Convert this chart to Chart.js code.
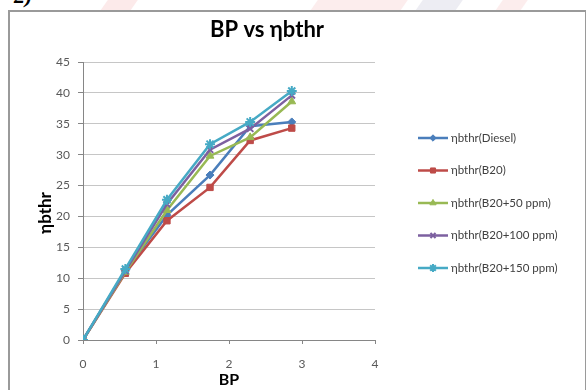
<!DOCTYPE html>
<html>
<head>
<meta charset="utf-8">
<script src="https://cdn.jsdelivr.net/npm/chart.js@4/dist/chart.umd.min.js"></script>
<style>
  html, body { margin: 0; padding: 0; background: #fff; overflow: hidden; }
  #page { position: relative; width: 586px; height: 390px; overflow: hidden; }
  #frame {
    position: absolute; left: 8px; top: 10px; width: 575px; height: 400px;
    border: 2px solid #9a9a9a; border-bottom: none; background: #fff;
  }
  #num {
    position: absolute; left: 14px; top: -17px;
    font: italic bold 22px "Liberation Serif", serif; color: #000;
  }
  .mark { position: absolute; height: 12px; transform: skewX(-35deg); opacity: 0.18; }
  canvas { position: absolute; left: 0; top: 0; }
</style>
</head>
<body>
<div id="page">
  <!-- faint watermark bits peeking above the chart frame -->
  <div class="mark" style="left:105px;top:-2px;width:30px;background:#e88;"></div>
  <div class="mark" style="left:315px;top:-2px;width:90px;background:#e99;"></div>
  <div class="mark" style="left:420px;top:-2px;width:40px;background:#99b;"></div>
  <div class="mark" style="left:500px;top:-2px;width:25px;background:#e99;"></div>
  <div id="num">2)</div>
  <div id="frame"></div>
  <canvas id="chart" width="586" height="390"></canvas>
</div>
<script>
// Brake power readings (x axis) shared by every fuel blend.
var bp = [0, 0.58, 1.15, 1.74, 2.29, 2.86];

// Brake thermal efficiency for each blend.
var diesel  = [0, 11.2, 20.2, 26.7, 34.6, 35.3];
var b20     = [0, 10.8, 19.3, 24.7, 32.3, 34.3];
var b20_50  = [0, 11.0, 21.0, 29.8, 32.8, 38.6];
var b20_100 = [0, 11.2, 22.0, 30.8, 34.2, 39.6];
var b20_150 = [0, 11.5, 22.7, 31.7, 35.3, 40.3];

var seriesNames = ['ηbthr(Diesel)', 'ηbthr(B20)', 'ηbthr(B20+50 ppm)',
                   'ηbthr(B20+100 ppm)', 'ηbthr(B20+150 ppm)'];

var xTicks = [0, 1, 2, 3, 4];
var yTicks = [0, 5, 10, 15, 20, 25, 30, 35, 40, 45];

var FONT = 'Lato, "Open Sans", sans-serif';

// Excel 2007 default palette and marker shapes, one per series.
var colors  = ['#4a7ebb', '#be4b48', '#98b954', '#7d60a0', '#46aac5'];
var markers = ['rectRot', 'rect', 'triangle', 'crossRot', 'star'];
var radii   = [4, 4.5, 4.5, 4.5, 5];

// Pair the x values with each series for a linear x axis.
function toPoints(values) {
  return values.map(function(v, i) { return { x: bp[i], y: v }; });
}

var datasets = [diesel, b20, b20_50, b20_100, b20_150].map(function(values, i) {
  return {
    label: seriesNames[i],
    data: toPoints(values),
    borderColor: colors[i],
    backgroundColor: colors[i],
    borderWidth: 2.5,
    pointStyle: markers[i],
    pointRadius: radii[i],
    pointBorderWidth: (markers[i] == 'crossRot' || markers[i] == 'star') ? 2 : 1,
    pointBorderColor: colors[i],
    // later series sit on top, like Excel
    order: 4 - i
  };
});

// Draws the chart title, axis titles and the Excel-style legend
// (short line with the marker in the middle) at fixed spots.
var textPlugin = {
  id: 'excelText',
  afterDraw: function(chart) {
    var ctx = chart.ctx;
    var area = chart.chartArea;
    ctx.save();
    ctx.fillStyle = '#000';
    ctx.textAlign = 'center';
    ctx.textBaseline = 'alphabetic';

    ctx.font = 'bold 22px ' + FONT;
    ctx.fillText('BP vs ηbthr', 267, 37);

    ctx.font = 'bold 16px ' + FONT;
    ctx.fillText('BP', (area.left + area.right) / 2, 385);

    ctx.translate(46, 213);
    ctx.rotate(-Math.PI / 2);
    ctx.font = 'bold 17px ' + FONT;
    ctx.textBaseline = 'middle';
    ctx.fillText('ηbthr', 0, 0);
    ctx.restore();

    // legend
    ctx.save();
    ctx.font = '11.5px ' + FONT;
    ctx.textAlign = 'left';
    ctx.textBaseline = 'middle';
    chart.data.datasets.forEach(function(ds, i) {
      var y = 138 + i * 32.5;
      ctx.strokeStyle = ds.borderColor;
      ctx.lineWidth = 2.5;
      ctx.beginPath();
      ctx.moveTo(418, y);
      ctx.lineTo(448, y);
      ctx.stroke();
      ctx.fillStyle = ds.backgroundColor;
      ctx.strokeStyle = ds.borderColor;
      ctx.lineWidth = ds.pointBorderWidth;
      Chart.helpers.drawPoint(ctx, {
        pointStyle: ds.pointStyle, radius: ds.pointRadius * 0.8, rotation: 0,
        borderWidth: ds.pointBorderWidth
      }, 433, y);
      ctx.fillStyle = '#404040';
      ctx.fillText(ds.label, 451, y);
    });
    ctx.restore();
  }
};

var chart = new Chart(document.getElementById('chart'), {
  type: 'line',
  data: { datasets: datasets },
  plugins: [textPlugin],
  options: {
    responsive: false,
    animation: false,
    layout: { padding: { left: 33, right: 211, top: 62, bottom: 0 } },
    plugins: {
      legend: { display: false },
      title: { display: false },
      tooltip: { enabled: false }
    },
    scales: {
      x: {
        type: 'linear',
        min: 0,
        max: 4,
        afterBuildTicks: function(scale) {
          scale.ticks = xTicks.map(function(v) { return { value: v }; });
        },
        afterFit: function(scale) { scale.height = 50; },
        grid: { drawOnChartArea: false, color: '#868686', tickLength: 4 },
        border: { color: '#868686', width: 1 },
        ticks: { padding: 13, color: '#595959', font: { family: FONT, size: 12 } }
      },
      y: {
        min: 0,
        max: 45,
        afterBuildTicks: function(scale) {
          scale.ticks = yTicks.map(function(v) { return { value: v }; });
        },
        afterFit: function(scale) { scale.width = 50; },
        grid: { color: '#c6c6c6', tickLength: 5, tickColor: '#868686' },
        border: { color: '#868686', width: 1 },
        ticks: { padding: 8, color: '#595959', font: { family: FONT, size: 12 } }
      }
    }
  }
});
</script>
</body>
</html>
